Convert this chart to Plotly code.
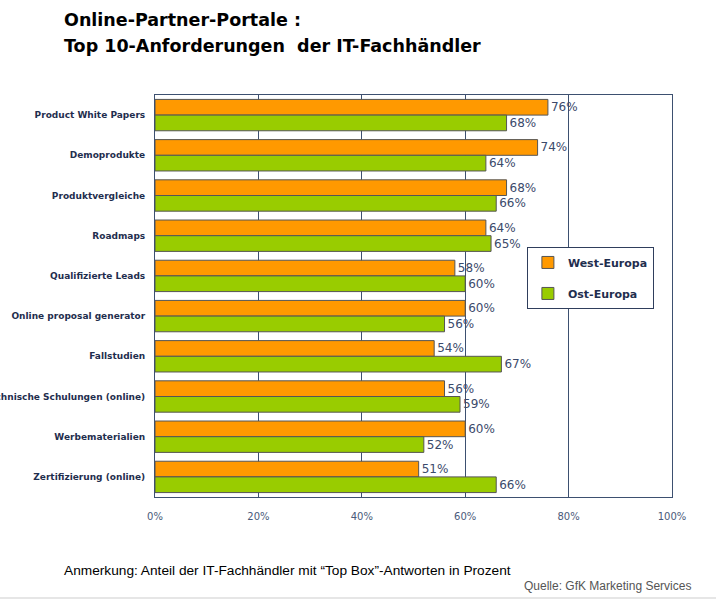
import plotly.graph_objects as go

categories = [
    "Product White Papers",
    "Demoprodukte",
    "Produktvergleiche",
    "Roadmaps",
    "Qualifizierte Leads",
    "Online proposal generator",
    "Fallstudien",
    "Technische Schulungen (online)",
    "Werbematerialien",
    "Zertifizierung (online)",
]
west = [76, 74, 68, 64, 58, 60, 54, 56, 60, 51]
ost = [68, 64, 66, 65, 60, 56, 67, 59, 52, 66]
x_ticks = [0, 20, 40, 60, 80, 100]
x_ticklabels = [f"{v}%" for v in x_ticks]

label_font = dict(family="DejaVu Sans", size=12, color="#3B4A6B")

fig = go.Figure()
fig.add_trace(go.Bar(
    y=categories, x=west, orientation="h", name="West-Europa",
    marker=dict(color="#FF9900", line=dict(color="#555555", width=1)),
    text=[f"{v}%" for v in west], textposition="outside",
    textfont=label_font, cliponaxis=False, legendgroup="w",
))
fig.add_trace(go.Bar(
    y=categories, x=ost, orientation="h", name="Ost-Europa",
    marker=dict(color="#99CC00", line=dict(color="#555555", width=1)),
    text=[f"{v}%" for v in ost], textposition="outside",
    textfont=label_font, cliponaxis=False, legendgroup="o",
))

fig.update_layout(
    width=716, height=600,
    margin=dict(l=155, r=44, t=95, b=103, autoexpand=False),
    paper_bgcolor="white", plot_bgcolor="white",
    barmode="group", bargap=0.22, bargroupgap=0.0,
    showlegend=True,
    legend=dict(
        x=0.965, y=0.622, xanchor="right", yanchor="top",
        bordercolor="#2F3E5C", borderwidth=1, bgcolor="white",
        font=dict(family="DejaVu Sans", size=11, color="#1F2E4E", weight="bold"),
        traceorder="grouped", tracegroupgap=12,
        itemwidth=30,
    ),
    xaxis=dict(
        range=[0, 100], tickvals=x_ticks, ticktext=x_ticklabels,
        showgrid=True, gridcolor="#3D5070", gridwidth=1,
        showline=True, linecolor="#3D5070", linewidth=1, mirror=True,
        tickfont=dict(family="DejaVu Sans", size=10, color="#4A5A7A"),
        ticks="", zeroline=False, ticklabelstandoff=10, automargin=False,
    ),
    yaxis=dict(
        autorange="reversed", automargin=False,
        showline=True, linecolor="#3D5070", linewidth=1, mirror=True,
        tickfont=dict(family="DejaVu Sans", size=9, color="#1F2E4E", weight="bold"),
        ticks="", ticklabelstandoff=7,
    ),
    font=dict(family="DejaVu Sans"),
)

fig.add_annotation(
    text="Online-Partner-Portale :",
    xref="paper", yref="paper", x=-0.18, y=1.0, yshift=75,
    xanchor="left", yanchor="middle", align="left", showarrow=False,
    font=dict(family="DejaVu Sans", size=17.5, color="black", weight="bold"),
)
fig.add_annotation(
    text="Top 10-Anforderungen  der IT-Fachhändler",
    xref="paper", yref="paper", x=-0.18, y=1.0, yshift=49,
    xanchor="left", yanchor="middle", align="left", showarrow=False,
    font=dict(family="DejaVu Sans", size=17.5, color="black", weight="bold"),
)
fig.add_annotation(
    text="Anmerkung: Anteil der IT-Fachhändler mit “Top Box”-Antworten in Prozent",
    xref="paper", yref="paper", x=-0.18, y=0, yshift=-73,
    xanchor="left", yanchor="middle", align="left", showarrow=False,
    font=dict(family="Liberation Sans", size=13.7, color="black"),
)
fig.add_annotation(
    text="Quelle: GfK Marketing Services",
    xref="paper", yref="paper", x=1.04, y=0, yshift=-89,
    xanchor="right", yanchor="middle", align="right", showarrow=False,
    font=dict(family="Liberation Sans", size=12, color="#555555"),
)
fig.add_shape(
    type="line", xref="paper", yref="paper",
    x0=-0.3, x1=1.1, y0=-0.251, y1=-0.251,
    line=dict(color="#E6E6E6", width=2),
)

fig.write_html("out.html")
